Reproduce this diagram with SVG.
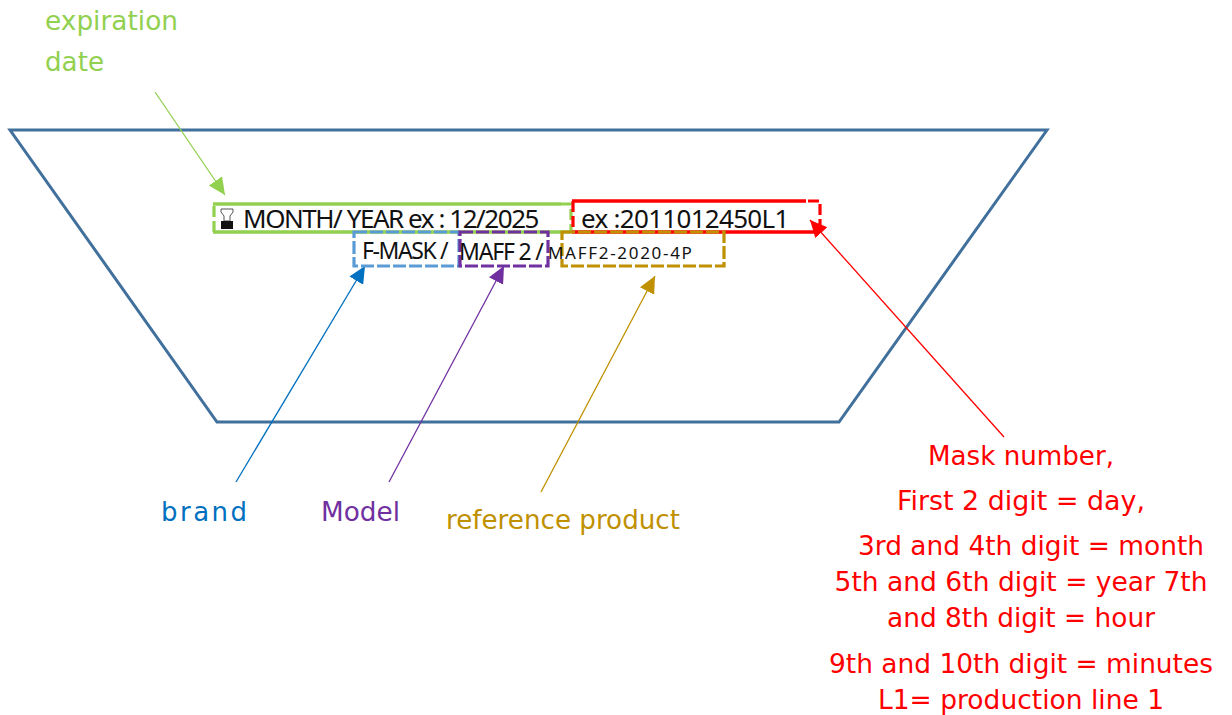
<svg xmlns="http://www.w3.org/2000/svg" width="1232" height="715" viewBox="0 0 1232 715">
<style>
text{font-family:"DejaVu Sans","Liberation Sans",sans-serif}
.lb{font-size:26px}
.red{fill:#ff0000;text-anchor:middle;font-size:26px}
text.ins{font-family:"Noto Sans","Liberation Sans",sans-serif;fill:#111}
.box{fill:none;stroke-width:3.2;stroke-dasharray:13 3}
.sol{fill:none;stroke-width:3.4}
.dash{fill:none;stroke-width:3.2;stroke-dasharray:11 4}
line.c{stroke-width:1.3}
</style>
<defs>
<marker id="ag" markerUnits="userSpaceOnUse" markerWidth="20" markerHeight="20" refX="17" refY="8" orient="auto"><path d="M0 0L17 8L0 16z" fill="#92d050"/></marker>
<marker id="ab" markerUnits="userSpaceOnUse" markerWidth="20" markerHeight="20" refX="17" refY="8" orient="auto"><path d="M0 0L17 8L0 16z" fill="#0070c0"/></marker>
<marker id="ap" markerUnits="userSpaceOnUse" markerWidth="20" markerHeight="20" refX="17" refY="8" orient="auto"><path d="M0 0L17 8L0 16z" fill="#7030a0"/></marker>
<marker id="ao" markerUnits="userSpaceOnUse" markerWidth="20" markerHeight="20" refX="17" refY="8" orient="auto"><path d="M0 0L17 8L0 16z" fill="#bf9000"/></marker>
<marker id="ar" markerUnits="userSpaceOnUse" markerWidth="20" markerHeight="20" refX="17" refY="8" orient="auto"><path d="M0 0L17 8L0 16z" fill="#ff0000"/></marker>
</defs>
<g id="mask"><path d="M10 130H1047L839 422H217Z" fill="none" stroke="#41709c" stroke-width="3"/></g>
<g id="connectors">
<line class="c" x1="155" y1="92" x2="225" y2="195" stroke="#92d050" marker-end="url(#ag)"/>
<line class="c" x1="236" y1="482" x2="365" y2="266" stroke="#0070c0" marker-end="url(#ab)"/>
<line class="c" x1="389" y1="482" x2="504" y2="266" stroke="#7030a0" marker-end="url(#ap)"/>
<line class="c" x1="541" y1="492" x2="655" y2="276" stroke="#bf9000" marker-end="url(#ao)"/>
<line class="c" x1="1004" y1="437" x2="810" y2="220" stroke="#ff0000" marker-end="url(#ar)"/>
</g>
<g id="expiration-box">
<path class="sol" d="M213 204H561M213 232H571" stroke="#92d050"/>
<path class="dash" d="M214 206V232M561 204H571V232" stroke="#92d050"/>
<g id="hourglass"><path d="M221 209H233V212L230 216V221H224V216L221 212Z" fill="#fff" stroke="#555" stroke-width="1"/><rect x="221" y="221" width="12" height="8" fill="#111"/></g>
<text class="ins" x="243" y="228" font-size="26" letter-spacing="-1.45">MONTH/ YEAR ex : 12/2025</text>
</g>
<g id="number-box">
<path class="sol" d="M572 201H806M572 232H820" stroke="#ff0000"/>
<path class="dash" d="M573 201V232M808 201H820V232" stroke="#ff0000"/>
<text class="ins" x="581" y="228" font-size="26" letter-spacing="-0.7">ex :2011012450L1</text>
</g>
<g id="brand-box">
<rect class="box" x="354" y="232" width="105" height="34" stroke="#5b9bd5"/>
<text class="ins" x="362" y="259" font-size="23" letter-spacing="-1.4">F-MASK /</text>
</g>
<g id="model-box">
<rect class="box" x="460" y="232" width="88" height="34" stroke="#7030a0"/>
<text class="ins" x="459" y="260" font-size="23" letter-spacing="-1.2">MAFF 2 /</text>
</g>
<g id="reference-box">
<rect class="box" x="562" y="232" width="162" height="34" stroke="#bf9000"/>
<text class="ins" x="548" y="259" font-size="17" letter-spacing="1.7">MAFF2-2020-4P</text>
</g>
<g id="expiration-label"><text class="lb" x="45" y="30" fill="#92d050" textLength="133" lengthAdjust="spacingAndGlyphs">expiration</text><text class="lb" x="45" y="71" fill="#92d050" textLength="59" lengthAdjust="spacingAndGlyphs">date</text></g>
<g id="brand-label"><text class="lb" x="161" y="521" fill="#0070c0" textLength="86">brand</text></g>
<g id="model-label"><text class="lb" x="321" y="521" fill="#7030a0" textLength="79" lengthAdjust="spacingAndGlyphs">Model</text></g>
<g id="reference-label"><text class="lb" x="446" y="529" fill="#bf9000" textLength="234" lengthAdjust="spacingAndGlyphs">reference product</text></g>
<g id="number-label">
<text class="red" x="1021" y="465" textLength="186" lengthAdjust="spacingAndGlyphs">Mask number,</text>
<text class="red" x="1021" y="510" textLength="248" lengthAdjust="spacingAndGlyphs">First 2 digit = day,</text>
<text class="red" x="1031" y="555" textLength="346" lengthAdjust="spacingAndGlyphs">3rd and 4th digit = month</text>
<text class="red" x="1021" y="591" textLength="373" lengthAdjust="spacingAndGlyphs">5th and 6th digit = year 7th</text>
<text class="red" x="1021" y="627" textLength="268" lengthAdjust="spacingAndGlyphs">and 8th digit = hour</text>
<text class="red" x="1021" y="673" textLength="384" lengthAdjust="spacingAndGlyphs">9th and 10th digit = minutes</text>
<text class="red" x="1021" y="709" textLength="286" lengthAdjust="spacingAndGlyphs">L1= production line 1</text>
</g>
</svg>
